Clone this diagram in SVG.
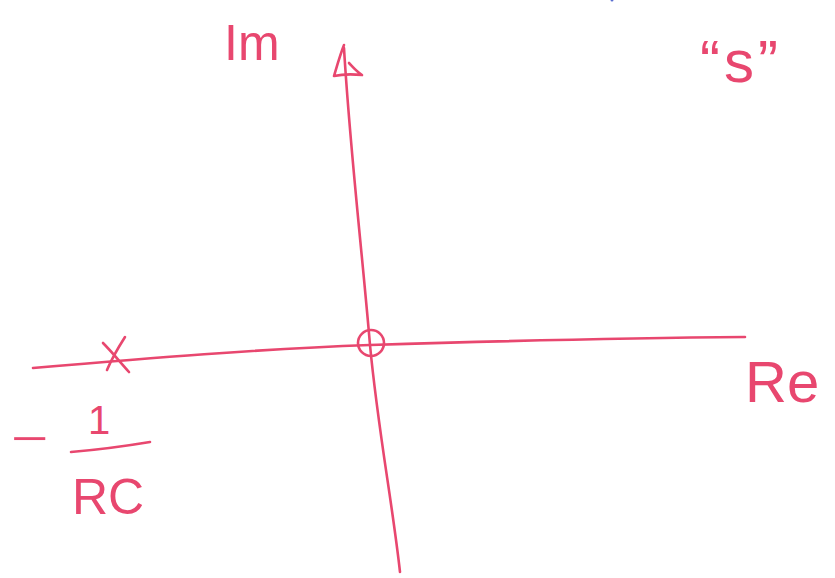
<svg xmlns="http://www.w3.org/2000/svg" width="835" height="578" viewBox="0 0 835 578">
<style>
.ink{fill:none;stroke:#e8476f;stroke-width:2.6;stroke-linecap:round;stroke-linejoin:round}
.t{fill:#e8476f;font-family:"Liberation Sans","DejaVu Sans",sans-serif;font-weight:normal}
</style>
<rect width="835" height="578" fill="#ffffff"/>
<circle cx="612" cy="0" r="1.5" fill="#5a6fd0"/>
<g id="connectors">
  <path id="imag-axis" class="ink" d="M344,48 C350,150 362,250 370,345 C378,430 392,500 400,572"/>
  <path id="imag-arrow" class="ink" d="M344,45 C340,55 337,66 334,76 M334,76 C343,74 352,74 362,75 C356,71 352,66 349,63"/>
  <path id="real-axis" class="ink" d="M33,368 C150,358 260,349 370,345 C500,341 620,338 745,337"/>
</g>
<g id="pole">
  <path class="ink" d="M103,343 C112,352 120,362 129,372 M125,337 C118,348 112,358 107,370"/>
</g>
<g id="zero">
  <circle class="ink" cx="371" cy="343" r="13"/>
</g>
<g id="label-im">
  <text class="t" x="224" y="60" font-size="50">Im</text>
</g>
<g id="label-re">
  <text class="t" x="745" y="402" font-size="58">Re</text>
</g>
<g id="label-s">
  <text class="t" x="700" y="82" font-size="60" letter-spacing="4">“s”</text>
</g>
<g id="label-pole">
  <text class="t" transform="translate(11,452) scale(1.6,1)" font-size="40">−</text>
  <text class="t" x="88" y="434" font-size="40">1</text>
  <path class="ink" d="M71,452 C95,450 120,447 150,442"/>
  <text class="t" x="72" y="514" font-size="50">RC</text>
</g>
</svg>
